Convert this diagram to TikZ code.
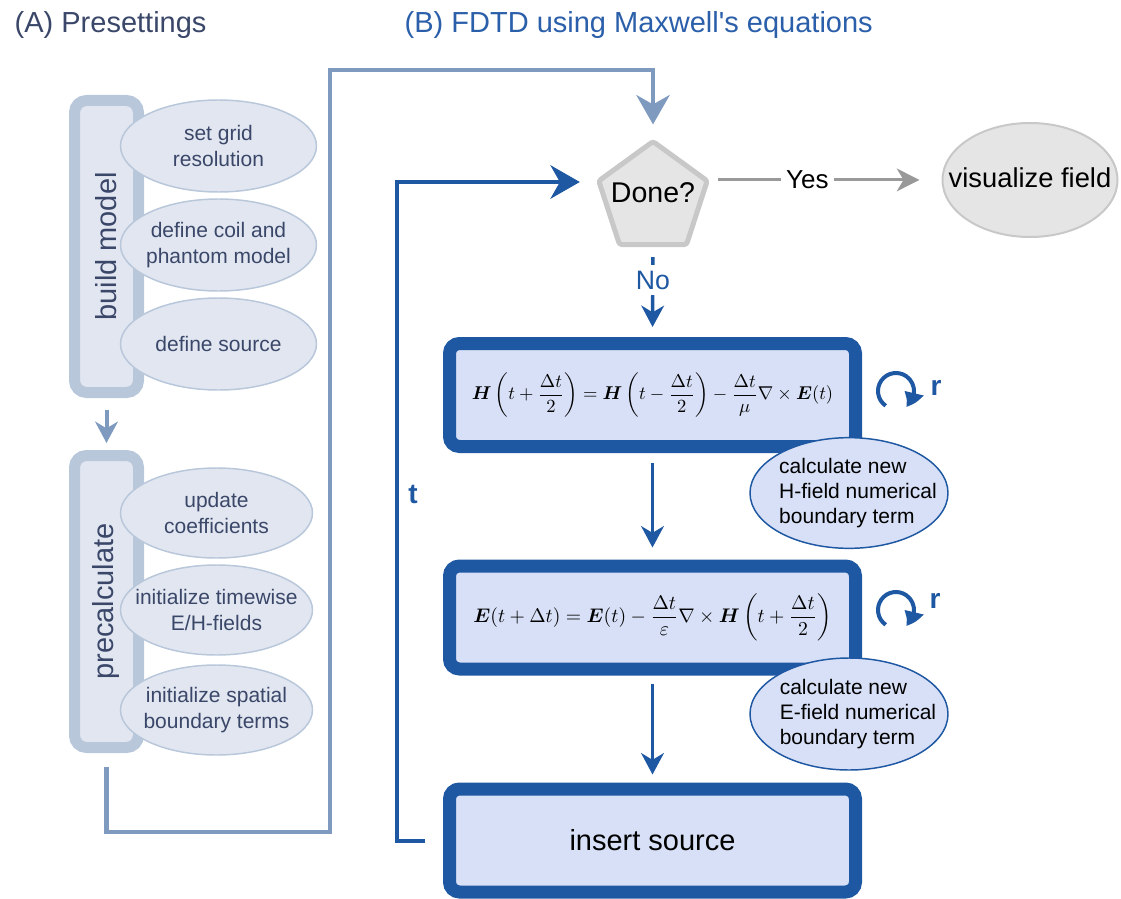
\documentclass[tikz,border=0pt]{standalone}
\usepackage{fontspec}
\setmainfont{Liberation Sans}
\usepackage{amsmath}
\usepackage{graphicx}
\usetikzlibrary{shapes.geometric,arrows.meta,bending}

\definecolor{slate}{HTML}{3A4769}
\definecolor{lfill}{HTML}{E1E6F0}
\definecolor{lline}{HTML}{B9C7DB}
\definecolor{gblue}{HTML}{7F9ABF}
\definecolor{dblue}{HTML}{1E57A2}
\definecolor{bfill}{HTML}{D7E0F6}
\definecolor{tblue}{HTML}{2B5FAA}
\definecolor{gfill}{HTML}{E5E5E5}
\definecolor{gline}{HTML}{C8C8C8}
\definecolor{garrow}{HTML}{999999}

\tikzset{
  titletext/.style={anchor=base west, font=\fontsize{21.75}{26}\selectfont},
  bar/.style={draw=lline, fill=lfill, line width=8.25pt, rounded corners=9pt,
    minimum width=48pt, minimum height=219pt, inner sep=0pt},
  barlabel/.style={draw=none, fill=none, rotate=90, text=slate,
    font=\fontsize{21.75}{26}\selectfont},
  pell/.style={ellipse, draw=lline, fill=lfill, line width=1.1pt, inner sep=0pt},
  ptext/.style={draw=none, fill=none, align=center, text=slate,
    font=\fontsize{15.75}{20}\selectfont},
  ebox/.style={draw=dblue, fill=bfill, line width=9.75pt, rounded corners=7.5pt,
    minimum width=304.5pt, minimum height=77.25pt, inner sep=0pt},
  bell/.style={ellipse, draw=dblue, fill=bfill, line width=1.1pt, inner sep=0pt,
    minimum width=148.5pt, minimum height=83pt},
  btext/.style={draw=none, fill=none, align=left, text=black, xshift=6.75pt,
    font=\fontsize{15.75}{18.75}\selectfont},
  smallgb/.style={draw=gblue, line width=3pt, -{Stealth[length=16pt,width=17pt,inset=5pt]}},
  biggb/.style={draw=gblue, line width=3.2pt, -{Stealth[length=22pt,width=25pt,inset=7pt]}},
  bigblue/.style={draw=dblue, line width=3pt, -{Stealth[length=22pt,width=25pt,inset=7pt]}},
  smallblue/.style={draw=dblue, line width=2.6pt, -{Stealth[length=16pt,width=17pt,inset=5pt]}},
  rarrow/.style={draw=dblue, line width=3pt, -{Triangle[length=12pt,width=14pt,bend]}},
  rtext/.style={text=dblue, font=\bfseries\fontsize{21}{24}\selectfont},
}

\begin{document}
\begin{tikzpicture}[x=0.75pt,y=-0.75pt]
\useasboundingbox (0,0) rectangle (1121,899);

% titles
\node[titletext, text=slate] (ta) at (10,33) {(A) Presettings};
\node[titletext, text=tblue] (tb) at (400,33) {(B) FDTD using Maxwell\textquotesingle s equations};

% left bars
\node[bar, label={[barlabel]center:build model}] (bm) at (106.5,246.5) {};
\node[bar, label={[barlabel]center:precalculate}] (pc) at (106.5,601.5) {};

% left ellipses
\node[pell, minimum width=147pt, minimum height=69pt,
  label={[ptext]center:set grid\\resolution}] (e1) at (218.5,146) {};
\node[pell, minimum width=147pt, minimum height=69pt,
  label={[ptext]center:define coil and\\phantom model}] (e2) at (218.5,245) {};
\node[pell, minimum width=147pt, minimum height=69pt,
  label={[ptext]center:define source}] (e3) at (218.5,344) {};
\node[pell, minimum width=144pt, minimum height=67.5pt,
  label={[ptext]center:update\\coefficients}] (e4) at (216.5,513) {};
\node[pell, minimum width=144pt, minimum height=67.5pt,
  label={[ptext]center:initialize timewise\\E/H-fields}] (e5) at (216.5,610) {};
\node[pell, minimum width=144pt, minimum height=67.5pt,
  label={[ptext]center:initialize spatial\\boundary terms}] (e6) at (216.5,710) {};

% decision and result
\node[regular polygon, regular polygon sides=5, minimum size=85.5pt, inner sep=0pt,
  draw=gline, fill=gfill, line width=3.75pt, rounded corners=2pt,
  label={[draw=none, fill=none, yshift=4.5pt, font=\fontsize{21.4}{25}\selectfont]center:Done?}]
  (done) at (653,198.5) {};
\node[ellipse, draw=gline, fill=gfill, line width=1.5pt, minimum width=131.25pt,
  minimum height=85.5pt, inner sep=0pt,
  label={[draw=none, fill=none, yshift=2pt, font=\fontsize{20.5}{24}\selectfont]center:visualize field}] (vis) at (1030,180) {};

% FDTD boxes
\node[ebox] (hb) at (652.5,395) {\resizebox{271pt}{!}{$\boldsymbol{H}\left(t+\dfrac{\Delta t}{2}\right)=\boldsymbol{H}\left(t-\dfrac{\Delta t}{2}\right)-\dfrac{\Delta t}{\mu}\nabla\times\boldsymbol{E}(t)$}};
\node[ebox] (eb) at (652.5,617.5) {\resizebox{268.5pt}{!}{$\boldsymbol{E}(t+\Delta t)=\boldsymbol{E}(t)-\dfrac{\Delta t}{\varepsilon}\nabla\times\boldsymbol{H}\left(t+\dfrac{\Delta t}{2}\right)$}};
\node[ebox, font=\fontsize{21.75}{26}\selectfont] (src) at (652.5,840.5) {insert source};

\node[bell, label={[btext]center:calculate new\\H-field numerical\\boundary term}] (hl) at (849,493) {};
\node[bell, minimum height=84pt, label={[btext]center:calculate new\\E-field numerical\\boundary term}] (el) at (849,714) {};

% connectors, presettings
\draw[smallgb, shorten <=9pt, shorten >=5.25pt] (bm.south) -- (pc.north);
\coordinate (g1) at (330,832);
\coordinate (g2) at (330,70);
\draw[biggb, shorten <=10.5pt, shorten >=10.5pt] (pc.south) |- (g1) -- (g2) -| (done.north);

% loop
\coordinate (l1) at (397,182);
\draw[bigblue, shorten <=13.5pt, shorten >=12pt] (src.west) -| (l1) -- (l1 -| done.corner 2);
\node[rtext] (tl) at (413,494) {t};

% yes / no
\draw[draw=garrow, line width=2.25pt, -{Stealth[length=17pt,width=17pt,inset=5pt]},
  shorten <=6pt, shorten >=16.5pt] (done.corner 5) -- (done.corner 5 -| vis.west)
  node[pos=0.42, fill=white, inner xsep=4pt, inner ysep=1pt, text=black,
  font=\fontsize{19.5}{23}\selectfont] (yes) {Yes};
\draw[smallblue, shorten <=7.5pt, shorten >=7.5pt] (done.south) -- (hb.north)
  node[pos=0.367, fill=white, inner xsep=1pt, inner ysep=4pt, text=dblue,
  font=\fontsize{20}{24}\selectfont] (no) {No};

\draw[smallblue, shorten <=7.5pt, shorten >=9pt] (hb.south) -- (eb.north);
\draw[smallblue, shorten <=6pt, shorten >=6pt] (eb.south) -- (src.north);

% r loops
\coordinate (rc1) at (896,391);
\coordinate (rc2) at (896,610);
\draw[rarrow] ([shift={(235:13.5pt)}]rc1) arc[start angle=235, end angle=-58, radius=13.5pt];
\draw[rarrow] ([shift={(235:13.5pt)}]rc2) arc[start angle=235, end angle=-58, radius=13.5pt];
\node[rtext] (r1) at (936,388) {r};
\node[rtext] (r2) at (935,601) {r};
\end{tikzpicture}
\end{document}
